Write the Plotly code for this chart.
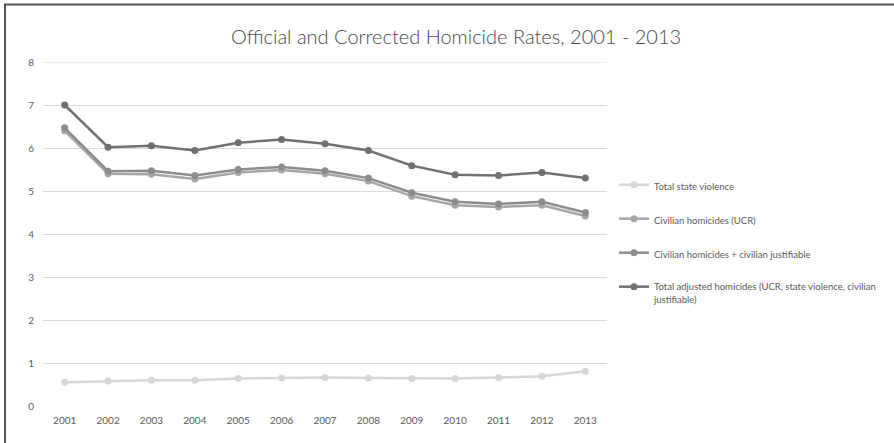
import plotly.graph_objects as go

years = ["2001", "2002", "2003", "2004", "2005", "2006", "2007",
         "2008", "2009", "2010", "2011", "2012", "2013"]

state_violence = [0.55, 0.58, 0.60, 0.60, 0.64, 0.65, 0.66, 0.65, 0.64, 0.64, 0.66, 0.69, 0.81]
civilian_ucr = [6.40, 5.40, 5.39, 5.28, 5.43, 5.49, 5.40, 5.23, 4.88, 4.67, 4.63, 4.67, 4.42]
civilian_plus_justifiable = [6.47, 5.46, 5.47, 5.36, 5.50, 5.56, 5.47, 5.30, 4.96, 4.75, 4.70, 4.75, 4.50]
total_adjusted = [7.00, 6.02, 6.05, 5.94, 6.12, 6.20, 6.10, 5.94, 5.59, 5.38, 5.36, 5.43, 5.30]

series = [
    ("Total state violence", state_violence, "#d6d6d6"),
    ("Civilian homicides (UCR)", civilian_ucr, "#a6a6a6"),
    ("Civilian homicides + civilian justifiable", civilian_plus_justifiable, "#8c8c8c"),
    ("Total adjusted homicides (UCR, state violence, civilian<br>justifiable)", total_adjusted, "#707070"),
]

FONT = "Lato"

fig = go.Figure()
for i, (name, vals, color) in enumerate(series):
    fig.add_trace(go.Scatter(
        x=years, y=vals, name=name, mode="lines+markers",
        line=dict(color=color, width=2.5),
        marker=dict(color=color, size=7),
        legendgroup=f"g{i}",
    ))

# plot area in pixels: x 43..607, y 62..406
L, R, T, B = 43, 287, 62, 37
W, H = 894, 443
pw, ph = W - L - R, H - T - B

def px_x(x):
    return (x - L) / pw

def px_y(y):
    return (H - B - y) / ph

# frame along the left and top edges, drawn as one open path
x_left, x_right = px_x(5), px_x(W + 30)
y_top, y_bottom = px_y(4.5), px_y(H + 30)
fig.add_shape(type="path", xref="paper", yref="paper", layer="below",
              path=f"M {x_left} {y_bottom} L {x_left} {y_top} L {x_right} {y_top}",
              line=dict(color="#555555", width=2))
# top gridline at the upper end of the value range
fig.add_shape(type="line", xref="paper", yref="y",
              x0=0, x1=1, y0=8, y1=8, layer="below",
              line=dict(color="#d9d9d9", width=1))

fig.update_layout(
    width=W, height=H,
    margin=dict(l=L, r=R, t=T, b=B, autoexpand=False),
    paper_bgcolor="white", plot_bgcolor="white",
    font=dict(family=FONT, color="#595959", size=10),
    title=dict(text="Official and Corrected Homicide Rates, 2001 - 2013",
               x=456 / W, xanchor="center", xref="container",
               y=1 - 37 / H, yanchor="middle", yref="container",
               font=dict(family=FONT, size=20, color="#484848", weight=300)),
    showlegend=True,
    legend=dict(xref="container", yref="container",
                x=614 / W, xanchor="left", y=1 - 172 / H, yanchor="top",
                font=dict(family=FONT, size=9.5, color="#595959"),
                tracegroupgap=15, valign="top", bgcolor="rgba(0,0,0,0)"),
    xaxis=dict(type="category", range=[-0.5, 12.5], showgrid=False,
               showline=False, zeroline=False, ticks="",
               tickfont=dict(size=10, color="#595959"), ticklabelstandoff=7),
    yaxis=dict(range=[0, 8], dtick=1, showgrid=True, gridcolor="#d9d9d9",
               gridwidth=1, zeroline=False, showline=False, ticks="",
               tickfont=dict(size=10, color="#595959"), ticklabelstandoff=8),
)

fig.write_html("out.html",
               post_script="document.body.style.margin='0';document.body.style.overflow='hidden';")
